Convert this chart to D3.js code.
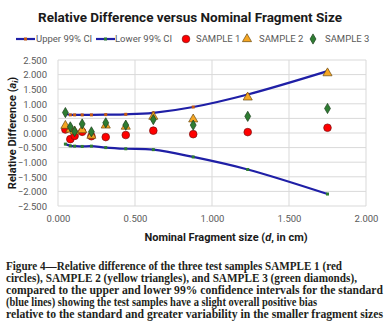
<!DOCTYPE html>
<html>
<head>
<meta charset="utf-8">
<script src="https://cdn.jsdelivr.net/npm/d3@7"></script>
<style>
  html, body { margin: 0; padding: 0; background: #fff; }
  svg { display: block; }
</style>
</head>
<body>
<div id="chart"></div>
<script>
// fragment sizes (cm)
const sizes = [0.048, 0.080, 0.108, 0.157, 0.217, 0.310, 0.440, 0.619, 0.878, 1.232, 1.750];
const upperCI = [0.66, 0.62, 0.62, 0.62, 0.62, 0.63, 0.64, 0.69, 0.89, 1.32, 2.12];
const lowerCI = [-0.38, -0.44, -0.45, -0.46, -0.45, -0.50, -0.54, -0.57, -0.82, -1.25, -2.09];
const sample1 = [0.12, -0.21, -0.10, 0.04, -0.11, -0.14, -0.07, 0.08, -0.04, 0.03, 0.18];
const sample2 = [0.25, 0.12, 0.06, 0.10, -0.09, 0.26, 0.22, 0.56, 0.47, 1.22, 2.05];
const sample3 = [0.70, 0.21, 0.05, 0.31, 0.04, 0.35, 0.27, 0.46, 0.27, 0.57, 0.84];
const xTicks = [0, 0.5, 1, 1.5, 2];
const yTicks = [2.5, 2, 1.5, 1, 0.5, 0, -0.5, -1, -1.5, -2, -2.5];
const captionLines = [
    'Figure 4\u2014Relative difference of the three test samples SAMPLE 1 (red',
    'circles), SAMPLE 2 (yellow triangles), and SAMPLE 3 (green diamonds),',
    'compared to the upper and lower 99% confidence intervals for the standard',
    '(blue lines) showing the test samples have a slight overall positive bias',
    'relative to the standard and greater variability in the smaller fragment sizes'
];
const captionWidths = [336, 351, 377, 311, 377];

const W = 388, H = 334;
const plot = { left: 58, right: 366, top: 60, bottom: 206 };
const gray = '#595959';
const sans = 'Roboto, "Open Sans", sans-serif';

const svg = d3.select('#chart').append('svg')
    .attr('width', W)
    .attr('height', H);

const x = d3.scaleLinear().domain([0, 2]).range([plot.left, plot.right]);
const y = d3.scaleLinear().domain([-2.5, 2.5]).range([plot.bottom, plot.top]);

// title
svg.append('text')
    .attr('x', 190).attr('y', 22)
    .attr('text-anchor', 'middle')
    .style('font-family', sans)
    .style('font-weight', 'bold')
    .style('font-size', '13.5px')
    .attr('fill', '#1a1a1a')
    .text('Relative Difference versus Nominal Fragment Size');

// grid
svg.append('g').selectAll('line.h')
    .data(yTicks)
    .enter().append('line')
    .attr('x1', plot.left).attr('x2', plot.right)
    .attr('y1', d => y(d)).attr('y2', d => y(d))
    .attr('stroke', '#d9d9d9').attr('stroke-width', 1);
svg.append('g').selectAll('line.v')
    .data(xTicks)
    .enter().append('line')
    .attr('x1', d => x(d)).attr('x2', d => x(d))
    .attr('y1', plot.top).attr('y2', plot.bottom)
    .attr('stroke', '#d9d9d9').attr('stroke-width', 1);

// axes (labels only, Excel style)
const xAxis = svg.append('g')
    .attr('transform', `translate(0,${plot.bottom + 6})`)
    .call(d3.axisBottom(x).tickValues(xTicks).tickFormat(d3.format('.3f')).tickSize(0));
const yAxis = svg.append('g')
    .attr('transform', `translate(${plot.left - 8},0)`)
    .call(d3.axisLeft(y).tickValues(yTicks).tickFormat(d3.format('.3f')).tickSize(0));
[xAxis, yAxis].forEach(a => {
    a.select('.domain').remove();
    a.selectAll('text')
        .style('font-family', sans)
        .style('font-size', '9.5px')
        .attr('fill', gray);
});
yAxis.selectAll('text').attr('dy', '0.35em');

// axis titles
const xTitle = svg.append('text')
    .attr('x', 226).attr('y', 241)
    .attr('text-anchor', 'middle')
    .style('font-family', sans)
    .style('font-weight', 'bold')
    .style('font-size', '11px')
    .attr('fill', '#1a1a1a');
xTitle.append('tspan').text('Nominal Fragment size (');
xTitle.append('tspan').style('font-style', 'italic').text('d');
xTitle.append('tspan').text(', in cm)');

const yTitle = svg.append('text')
    .attr('transform', `translate(16,${(plot.top + plot.bottom) / 2}) rotate(-90)`)
    .attr('text-anchor', 'middle')
    .style('font-family', sans)
    .style('font-weight', 'bold')
    .style('font-size', '11px')
    .attr('fill', '#1a1a1a');
yTitle.append('tspan').text('Relative Difference (');
yTitle.append('tspan').style('font-style', 'italic').text('a');
yTitle.append('tspan').style('font-style', 'italic').style('font-size', '8px').attr('dy', 2).text('i');
yTitle.append('tspan').attr('dy', -2).text(')');

// CI lines
const line = d3.line()
    .x(d => x(d[0]))
    .y(d => y(d[1]))
    .curve(d3.curveCatmullRom.alpha(0.5));

const ciSeries = [
    { key: 'Upper 99% CI', values: upperCI, marker: '#c55a11' },
    { key: 'Lower 99% CI', values: lowerCI, marker: '#2e7d32' }
];
ciSeries.forEach(s => {
    const pts = sizes.map((d, i) => [d, s.values[i]]);
    svg.append('path')
        .attr('d', line(pts))
        .attr('fill', 'none')
        .attr('stroke', '#1f1fa6')
        .attr('stroke-width', 2.2);
    svg.append('g').selectAll('rect')
        .data(pts)
        .enter().append('rect')
        .attr('x', d => x(d[0]) - 1.5)
        .attr('y', d => y(d[1]) - 1.5)
        .attr('width', 3).attr('height', 3)
        .attr('fill', s.marker);
});

// samples
const sym = {
    circle: d3.symbol().type(d3.symbolCircle).size(46),
    triangle: d3.symbol().type(d3.symbolTriangle).size(36),
    diamond: d3.symbol().type(d3.symbolDiamond).size(30)
};
const samples = [
    { key: 'SAMPLE 1', values: sample1, shape: 'circle', fill: '#ff0000', stroke: '#7a1010' },
    { key: 'SAMPLE 2', values: sample2, shape: 'triangle', fill: '#f5a623', stroke: '#6b4a10' },
    { key: 'SAMPLE 3', values: sample3, shape: 'diamond', fill: '#2e7d32', stroke: '#1b3d1b' }
];
samples.forEach(s => {
    svg.append('g').selectAll('path')
        .data(sizes.map((d, i) => [d, s.values[i]]))
        .enter().append('path')
        .attr('transform', d => `translate(${x(d[0])},${y(d[1])})`)
        .attr('d', sym[s.shape]())
        .attr('fill', s.fill)
        .attr('stroke', s.stroke)
        .attr('stroke-width', 0.7);
});

// legend
const legend = svg.append('g').attr('transform', 'translate(0,39)');
const legendItems = [
    { type: 'line', key: ciSeries[0].key, marker: ciSeries[0].marker, x: 16, tx: 36 },
    { type: 'line', key: ciSeries[1].key, marker: ciSeries[1].marker, x: 96, tx: 115 },
    { type: 'sym', s: samples[0], x: 186, tx: 196 },
    { type: 'sym', s: samples[1], x: 247, tx: 259 },
    { type: 'sym', s: samples[2], x: 313, tx: 325 }
];
legendItems.forEach(it => {
    if (it.type === 'line') {
        legend.append('line')
            .attr('x1', it.x).attr('x2', it.x + 19)
            .attr('y1', 0).attr('y2', 0)
            .attr('stroke', '#1f1fa6').attr('stroke-width', 2.2);
        legend.append('rect')
            .attr('x', it.x + 8).attr('y', -1.5)
            .attr('width', 3).attr('height', 3)
            .attr('fill', it.marker);
    } else {
        legend.append('path')
            .attr('transform', `translate(${it.x},0)`)
            .attr('d', sym[it.s.shape]())
            .attr('fill', it.s.fill)
            .attr('stroke', it.s.stroke)
            .attr('stroke-width', 0.7);
    }
    legend.append('text')
        .attr('x', it.tx).attr('y', 0).attr('dy', '0.35em')
        .style('font-family', sans)
        .style('font-size', '9.5px')
        .attr('fill', gray)
        .text(it.type === 'line' ? it.key : it.s.key);
});

// caption
svg.append('g').selectAll('text')
    .data(captionLines)
    .enter().append('text')
    .attr('x', 6)
    .attr('y', (d, i) => 270 + i * 12.1)
    .attr('textLength', (d, i) => captionWidths[i])
    .attr('lengthAdjust', 'spacingAndGlyphs')
    .style('font-family', '"Liberation Serif", "DejaVu Serif", serif')
    .style('font-weight', 'bold')
    .style('font-size', '11.5px')
    .attr('fill', '#231f20')
    .text(d => d);
</script>
</body>
</html>
